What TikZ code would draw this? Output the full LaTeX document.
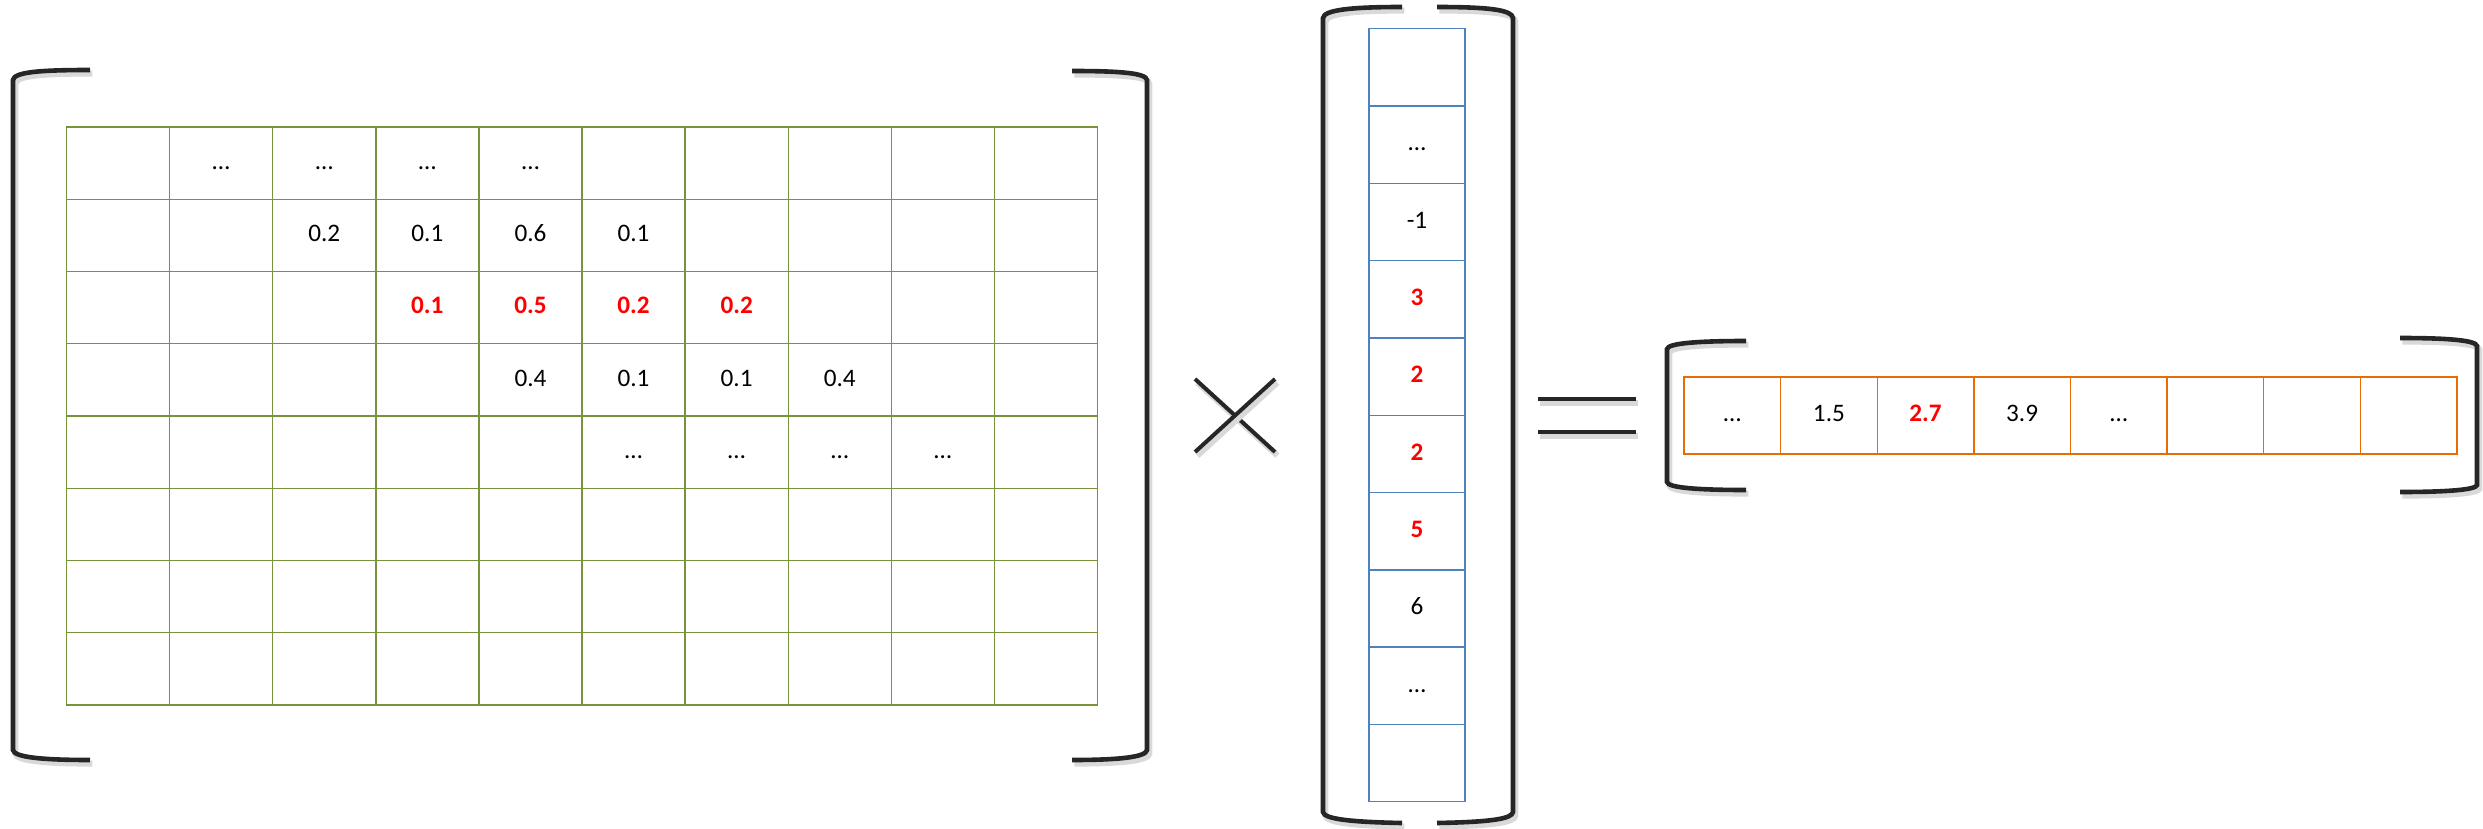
\documentclass[tikz,border=0pt]{standalone}
\usepackage{fontspec}
\setmainfont{Carlito}
\usepackage{tikz}
\definecolor{gridgreen}{RGB}{119,147,60}
\definecolor{vecblue}{RGB}{79,129,189}
\definecolor{resorange}{RGB}{228,108,10}
\definecolor{ink}{RGB}{38,38,38}
\newcommand{\cellfont}{\fontsize{12.6}{15}\selectfont}
\tikzset{cell/.style={draw, line width=0.7pt, inner sep=0pt, text height=0.63em, text depth=0pt, font=\cellfont},
         mcell/.style={cell, draw=gridgreen, minimum width=51.55pt, minimum height=36.1pt},
         vcell/.style={cell, draw=vecblue, minimum width=48pt, minimum height=38.65pt},
         rcell/.style={cell, draw=resorange, minimum width=48.3pt, minimum height=38.5pt},
         val/.style={inner sep=0pt, text height=0.63em, text depth=0pt, font=\cellfont},
         plain/.style={},
         hl/.style={text=red, font=\cellfont\bfseries},
         brk/.style={draw=ink, line width=2.3pt, preaction={draw=black!15, line width=3pt, transform canvas={shift={(1.2pt,-1.8pt)}}}},
         sign/.style={brk, line width=2pt}}

\begin{document}
\begin{tikzpicture}[x=0.5pt, y=-0.5pt]
  \useasboundingbox (0,0) rectangle (2483,829);
  % weights
  \foreach \r in {1,...,8}
    \foreach \c in {1,...,10}
      \node[mcell] (m-\r-\c) at ({66.5+103.1*(\c-0.5)}, {127+72.25*(\r-0.5)}) {};
  \foreach \r/\c/\t/\s in {1/2/…/plain, 1/3/…/plain, 1/4/…/plain, 1/5/…/plain,
                          2/3/0.2/plain, 2/4/0.1/plain, 2/5/0.6/plain, 2/6/0.1/plain,
                          3/4/0.1/hl, 3/5/0.5/hl, 3/6/0.2/hl, 3/7/0.2/hl,
                          4/5/0.4/plain, 4/6/0.1/plain, 4/7/0.1/plain, 4/8/0.4/plain,
                          5/6/…/plain, 5/7/…/plain, 5/8/…/plain, 5/9/…/plain}
    \node[val, \s] (mv-\r-\c) at (m-\r-\c) {\t};
  \draw[brk] (90,70) .. controls (40,70) and (14,72) .. (13,80) -- (13,750) .. controls (14,757) and (40,760) .. (90,760);
  \draw[brk] (1072,71) .. controls (1120,71) and (1146,73) .. (1147,80) -- (1147,750) .. controls (1146,757) and (1120,760) .. (1072,760);

  \draw[sign] (1195,379) -- (1275,452);
  \draw[sign] (1275,379) -- (1195,452);

  % input column
  \foreach \t/\s [count=\i] in {{}/plain, …/plain, -1/plain, 3/hl, 2/hl, 2/hl, 5/hl, 6/plain, …/plain, {}/plain}
    \node[vcell, \s] (v-\i) at (1417, {28.7+77.3*(\i-0.5)}) {\t};
  \draw[brk] (1402,7) .. controls (1350,7) and (1324,10) .. (1323,18) -- (1323,812) .. controls (1324,819) and (1350,822) .. (1402,823);
  \draw[brk] (1437,7) .. controls (1490,7) and (1512,10) .. (1513,18) -- (1513,812) .. controls (1512,819) and (1490,822) .. (1437,823);

  \draw[sign] (1538,399) -- (1636,399);
  \draw[sign] (1538,432) -- (1636,432);

  % output row
  \foreach \t/\s [count=\i] in {…/plain, 1.5/plain, 2.7/hl, 3.9/plain, …/plain, {}/plain, {}/plain, {}/plain}
    \node[rcell, \s] (r-\i) at ({1684+96.6*(\i-0.5)}, 415.5) {\t};
  \draw[brk] (1746,341) .. controls (1700,341) and (1668,343) .. (1667,349) -- (1667,482) .. controls (1668,488) and (1700,490) .. (1746,490);
  \draw[brk] (2400,338) .. controls (2445,338) and (2476,340) .. (2477,346) -- (2477,485) .. controls (2476,490) and (2445,492) .. (2400,492);
\end{tikzpicture}
\end{document}
